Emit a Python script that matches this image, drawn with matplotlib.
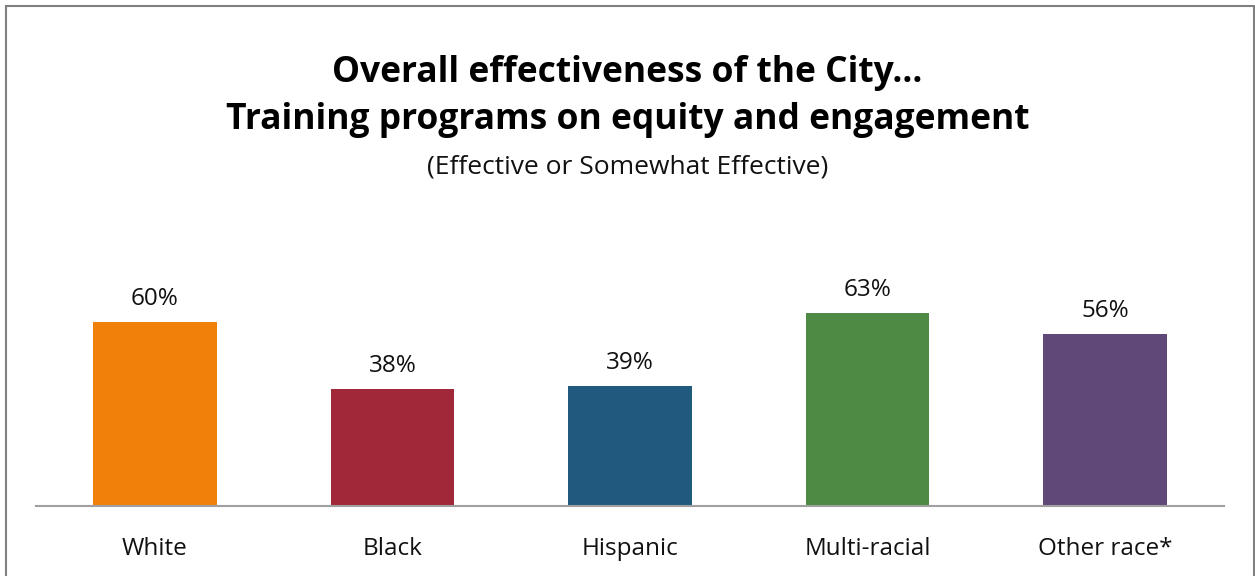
import matplotlib
matplotlib.use("Agg")
import matplotlib.pyplot as plt
from matplotlib.patches import Rectangle

categories = ["White", "Black", "Hispanic", "Multi-racial", "Other race*"]
values = [60, 38, 39, 63, 56]
colors = ["#F0800A", "#A12838", "#1F5A7E", "#4E8A43", "#604878"]
title_lines = ["Overall effectiveness of the City...",
               "Training programs on equity and engagement"]
subtitle = "(Effective or Somewhat Effective)"

plt.rcParams['font.family'] = ['Open Sans', 'DejaVu Sans']

W, H = 1255, 576
fig = plt.figure(figsize=(W / 100, H / 100), dpi=100)

ax = fig.add_axes([36 / W, 70 / H, (1224 - 36) / W, 306.7 / H])
x = range(len(categories))
ax.bar(x, values, width=0.52, color=colors, zorder=2)
ax.set_xlim(-0.5, 4.5)
ax.set_ylim(0, 100)
for xi, v in zip(x, values):
    ax.annotate(f"{v}%", (xi, v), xytext=(0, 17), textcoords="offset pixels",
                ha="center", va="baseline", fontsize=17.5, color="#111111")
ax.set_xticks(list(x))
ax.set_xticklabels(categories, fontsize=17.5, color="#111111")
ax.tick_params(axis="x", length=0, pad=22)
ax.set_yticks([])
for s in ["top", "right", "left"]:
    ax.spines[s].set_visible(False)
ax.spines["bottom"].set_color("#A0A0A0")
ax.spines["bottom"].set_linewidth(1.5)

fig.text(0.5, 1 - 82 / H, title_lines[0], ha="center", va="baseline",
         fontsize=25.5, fontweight="bold", color="black")
fig.text(0.5, 1 - 129 / H, title_lines[1], ha="center", va="baseline",
         fontsize=25.5, fontweight="bold", color="black")
fig.text(0.5, 1 - 173 / H, subtitle, ha="center", va="baseline",
         fontsize=19, color="#111111")

fig.patches.append(Rectangle((6 / W, -0.05), (1254 - 6) / W, 1.05 - 6 / H,
                             transform=fig.transFigure, fill=False,
                             edgecolor="#808080", linewidth=1.5))

fig.savefig("out.png", dpi=100)
